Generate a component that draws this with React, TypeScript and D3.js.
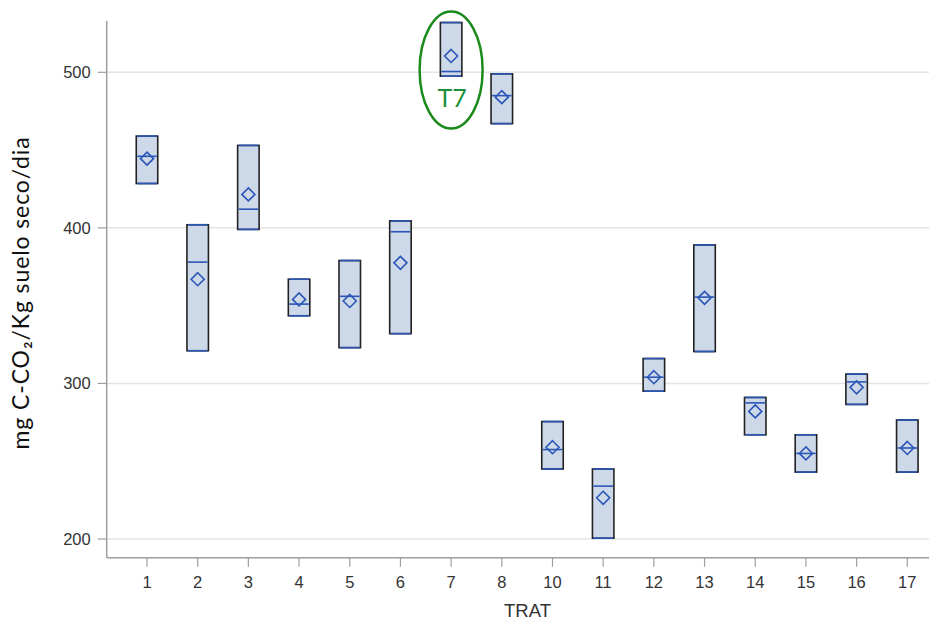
import React from "react";
import * as d3 from "d3";

const categories = ["1", "2", "3", "4", "5", "6", "7", "8", "10", "11", "12", "13", "14", "15", "16", "17"];
const boxTop = [459, 402, 453, 367, 379, 404.5, 532, 499, 275.5, 245, 316, 389, 291, 267, 306, 276.5];
const boxBottom = [428.5, 321, 399, 343.5, 323, 332, 497.5, 467, 245, 200.5, 295, 320.5, 267, 243, 286.5, 243];
const medians = [446, 378, 412, 351, 356, 397.5, 500.5, 485, 257.5, 234, 304, 355.5, 287.5, 255, 301, 258.5];
const means = [444.5, 367, 421.5, 354, 353, 377.5, 510.5, 484, 259, 226.5, 304, 355, 282, 255, 297.5, 258.5];
const yTicks = [200, 300, 400, 500];
const highlight = "7";
const highlightLabel = "T7";

export default function App() {
  const W = 929, H = 621;
  const left = 106.7, bottom = 557.7, top = 21;
  const x = d3.scalePoint<string>().domain(categories).range([147, 907.3]);
  const y = d3.scaleLinear().domain([200, 500]).range([539, 72.3]);
  const bw = 21.5;
  const dm = 6.5;
  const blue = "#2a56b8";
  const hx = x(highlight)!;
  return (
    <svg width={W} height={H} style={{ position: "absolute", left: 0, top: 0, background: "#fff" }}>
      {yTicks.map((t) => (
        <g key={t}>
          <line x1={left} x2={W} y1={y(t)} y2={y(t)} stroke="#e4e4e4" strokeWidth={1.5} />
          <line x1={left - 9} x2={left} y1={y(t)} y2={y(t)} stroke="#9aa0a4" strokeWidth={1.2} />
          <text x={left - 16} y={y(t)} dy="0.36em" textAnchor="end" fontFamily="Liberation Sans, Arial" fontSize={16.5} fill="#333">{t}</text>
        </g>
      ))}
      <line x1={left} x2={left} y1={top} y2={bottom} stroke="#9aa0a4" strokeWidth={1.5} />
      <line x1={left} x2={W} y1={bottom} y2={bottom} stroke="#9aa0a4" strokeWidth={1.5} />
      {categories.map((c) => (
        <g key={c}>
          <line x1={x(c)} x2={x(c)} y1={bottom} y2={bottom + 9} stroke="#9aa0a4" strokeWidth={1.2} />
          <text x={x(c)} y={bottom + 30.5} textAnchor="middle" fontFamily="Liberation Sans, Arial" fontSize={16.5} fill="#333">{c}</text>
        </g>
      ))}
      {categories.map((c, i) => {
        const cx = x(c)!;
        const yt = y(boxTop[i]), yb = y(boxBottom[i]), ym = y(medians[i]), ymean = y(means[i]);
        return (
          <g key={"b" + c}>
            <rect x={cx - bw / 2} y={yt} width={bw} height={yb - yt} fill="#cdd8e8" stroke="#222" strokeWidth={1.6} />
            <line x1={cx - bw / 2 + 1} x2={cx + bw / 2 - 1} y1={yt} y2={yt} stroke={blue} strokeWidth={1.6} />
            <line x1={cx - bw / 2 + 1} x2={cx + bw / 2 - 1} y1={yb} y2={yb} stroke={blue} strokeWidth={1.6} />
            <line x1={cx - bw / 2 + 1} x2={cx + bw / 2 - 1} y1={ym} y2={ym} stroke={blue} strokeWidth={1.6} />
            <path d={`M${cx},${ymean - dm}L${cx + dm},${ymean}L${cx},${ymean + dm}L${cx - dm},${ymean}Z`} fill="none" stroke={blue} strokeWidth={1.6} />
          </g>
        );
      })}
      <ellipse cx={hx} cy={70} rx={31.5} ry={58.5} fill="none" stroke="#1a8a1a" strokeWidth={2.5} />
      <text x={hx + 1} y={106.5} textAnchor="middle" fontFamily="Lato, Carlito, sans-serif" fontSize={25} fill="#1f8f3a">{highlightLabel}</text>
      <text x={527.5} y={617} textAnchor="middle" fontFamily="Liberation Sans, Arial" fontSize={18.5} fill="#333">TRAT</text>
      <text transform={`translate(29,293) rotate(-90)`} textAnchor="middle" fontFamily="Lato, Carlito, sans-serif" fontSize={23} letterSpacing={0.9} fill="#111">
        mg C-CO₂/Kg suelo seco/dia
      </text>
    </svg>
  );
}
